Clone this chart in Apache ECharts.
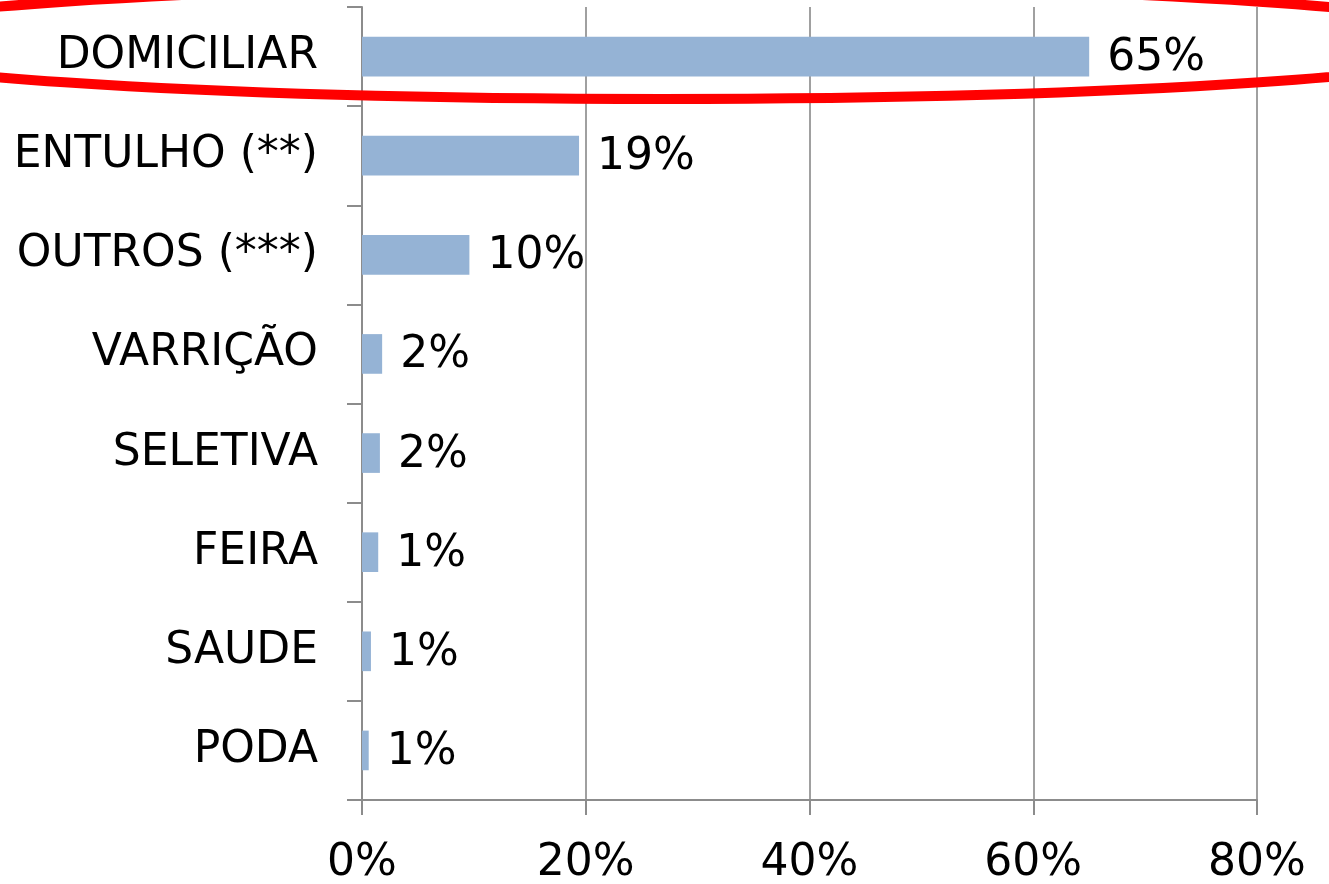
<!DOCTYPE html>
<html>
<head>
<meta charset="utf-8">
<script src="https://cdn.jsdelivr.net/npm/echarts@6/dist/echarts.min.js"></script>
<style>
html,body{margin:0;padding:0;background:#fff;}
#chart{width:1329px;height:884px;}
</style>
</head>
<body>
<div id="chart"></div>
<script>
const categories = ['DOMICILIAR', 'ENTULHO (**)', 'OUTROS (***)', 'VARRIÇÃO', 'SELETIVA', 'FEIRA', 'SAUDE', 'PODA'];
const values = [65.0, 19.4, 9.6, 1.8, 1.6, 1.45, 0.8, 0.6];
const xTicks = [0, 20, 40, 60, 80];

const FONT = '"DejaVu Sans", sans-serif';
const chart = echarts.init(document.getElementById('chart'));
chart.setOption({
  animation: false,
  backgroundColor: '#ffffff',
  grid: { left: 362, right: 72, top: 7, bottom: 84, containLabel: false, outerBoundsMode: 'none' },
  xAxis: {
    type: 'value',
    min: xTicks[0],
    max: xTicks[xTicks.length - 1],
    interval: 20,
    axisLine: { show: true, lineStyle: { color: '#8c8c8c', width: 2 } },
    axisTick: { show: true, length: 15, lineStyle: { color: '#8c8c8c', width: 2 } },
    splitLine: { show: true, lineStyle: { color: '#a0a0a0', width: 2 } },
    axisLabel: { formatter: v => v + '%', color: '#000', fontSize: 44, fontFamily: FONT, margin: 42 }
  },
  yAxis: {
    type: 'category',
    inverse: true,
    data: categories,
    axisLine: { show: true, lineStyle: { color: '#8c8c8c', width: 2 } },
    axisTick: { show: true, length: 15, lineStyle: { color: '#8c8c8c', width: 2 } },
    axisLabel: { color: '#000', fontSize: 44, fontFamily: FONT, margin: 44 }
  },
  series: [{
    type: 'bar',
    data: values,
    barCategoryGap: '60%',
    itemStyle: { color: '#95b3d5' },
    label: {
      show: true,
      position: 'right',
      distance: 18,
      offset: [0, 2],
      color: '#000',
      fontSize: 44,
      fontFamily: FONT,
      formatter: p => Math.round(p.value) + '%'
    }
  }],
  graphic: [{
    type: 'ellipse',
    shape: { cx: 662, cy: 42, rx: 845, ry: 57 },
    style: { fill: 'none', stroke: '#ff0000', lineWidth: 10 },
    z: 100
  }]
});
</script>
</body>
</html>
